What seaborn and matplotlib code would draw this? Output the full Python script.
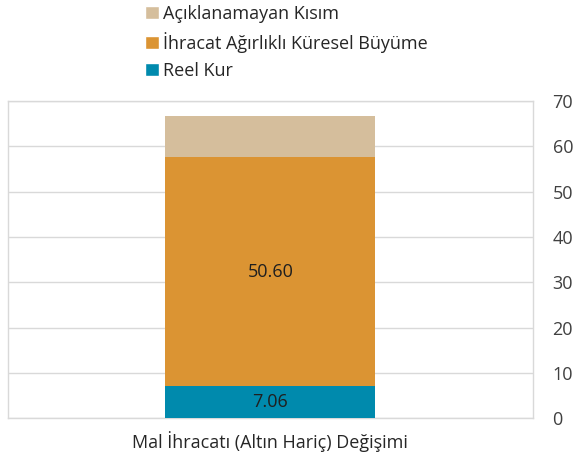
import matplotlib

matplotlib.use("Agg")

import matplotlib.pyplot as plt
import pandas as pd
import seaborn as sns
from matplotlib.patches import Patch

CATEGORY = ["Mal İhracatı (Altın Hariç) Değişimi"]
SERIES_NAMES = ["Reel Kur", "İhracat Ağırlıklı Küresel Büyüme", "Açıklanamayan Kısım"]
REEL_KUR = [7.06]
KURESEL_BUYUME = [50.60]
ACIKLANAMAYAN = [9.0]
SHOW_LABEL = [True, True, False]
COLORS = ["#008aad", "#db9433", "#d5be9c"]
Y_TICKS = [0, 10, 20, 30, 40, 50, 60, 70]

sns.set_theme(style="white")
plt.rcParams["font.family"] = ["Open Sans", "DejaVu Sans"]

fig = plt.figure(figsize=(5.77, 4.65), dpi=100)
ax = fig.add_axes([0.013, 0.1004, 0.911, 0.6824])

df = pd.DataFrame(
    {
        "category": CATEGORY * 3,
        "series": SERIES_NAMES,
        "value": REEL_KUR + KURESEL_BUYUME + ACIKLANAMAYAN,
    }
)

bottom = 0.0
for i, row in df.iterrows():
    sns.barplot(
        x=[row["category"]],
        y=[row["value"]],
        bottom=bottom,
        color=COLORS[i],
        width=0.4,
        saturation=1,
        linewidth=0,
        ax=ax,
        zorder=3,
    )
    if SHOW_LABEL[i]:
        ax.text(
            0,
            bottom + row["value"] / 2,
            f"{row['value']:.2f}",
            ha="center",
            va="center",
            fontsize=13,
            color="#1f1f1f",
            zorder=4,
        )
    bottom += row["value"]

ax.set_xlim(-0.5, 0.5)
ax.set_ylim(0, 70)
ax.set_yticks(Y_TICKS)
ax.yaxis.tick_right()
ax.tick_params(axis="y", length=0, pad=14, labelsize=13, labelcolor="#404040")
for lbl in ax.get_yticklabels():
    lbl.set_horizontalalignment("left")
ax.tick_params(axis="x", length=0, pad=9, labelsize=13, labelcolor="#262626")
ax.set_xlabel("")
ax.set_ylabel("")
ax.grid(axis="y", color="#d9d9d9", linewidth=1, zorder=0)
for spine in ax.spines.values():
    spine.set_visible(True)
    spine.set_color("#d9d9d9")
    spine.set_linewidth(1)

handles = [Patch(facecolor=COLORS[i], label=SERIES_NAMES[i]) for i in (2, 1, 0)]
fig.legend(
    handles=handles,
    loc="upper left",
    bbox_to_anchor=(0.224, 1.024),
    frameon=False,
    handlelength=0.75,
    handleheight=0.75,
    handletextpad=0.2,
    labelspacing=0.5,
    fontsize=13,
    labelcolor="#262626",
)

fig.savefig("out.png", dpi=100)
